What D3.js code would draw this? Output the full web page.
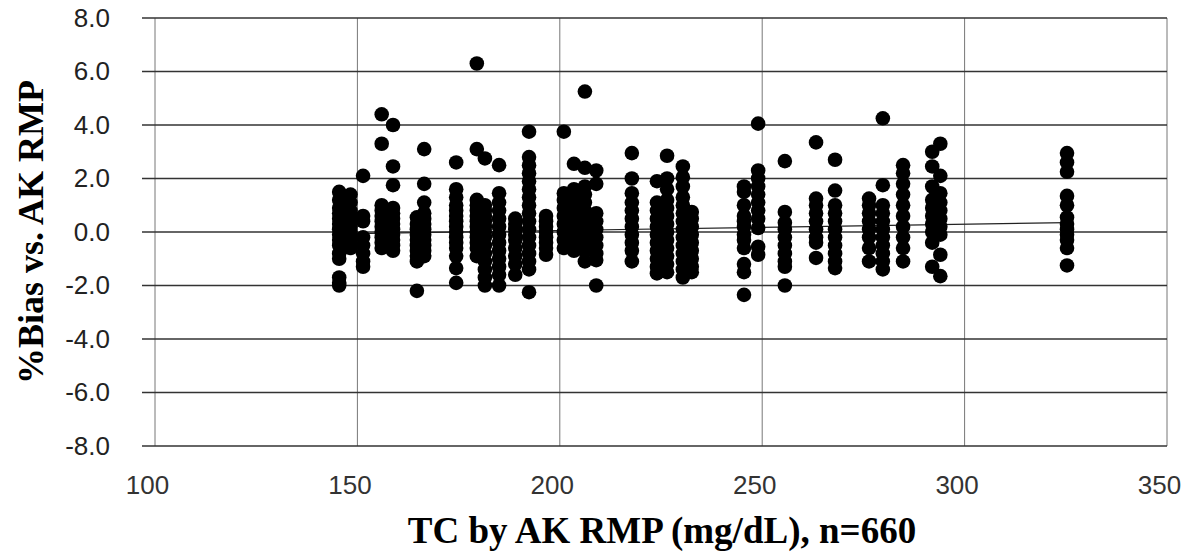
<!DOCTYPE html>
<html>
<head>
<meta charset="utf-8">
<script src="https://cdn.jsdelivr.net/npm/d3@7"></script>
<style>
  body { margin: 0; background: #fff; }
</style>
</head>
<body>
<div id="chart"></div>
<script>
// TC value of each column of points
var columnTC = [145.5, 148.3, 151.4, 156, 158.8, 164.7, 166.5, 174.4, 179.5, 181.5, 185, 189,
    192.4, 196.6, 201, 203.5, 206.2, 209, 217.8, 224, 226.5, 230.4, 232.6, 245.5, 249,
    255.6, 263.3, 268, 276.4, 279.8, 284.8, 292, 294, 325.3]

// %Bias values in each column (same order as columnTC)
var columnBias = [
    [1.5, 1.2, 0.9, 0.7, 0.5, 0.3, 0.1, -0.1, -0.3, -0.5, -0.8, -1.0, -1.7, -1.9, -2.0],
    [1.4, 1.1, 0.8, 0.6, 0.4, 0.2, 0.0, -0.2, -0.4, -0.6],
    [2.1, 0.6, 0.4, -0.2, -0.5, -0.8, -1.1, -1.3],
    [4.4, 3.3, 1.0, 0.8, 0.6, 0.4, 0.2, 0.0, -0.2, -0.4, -0.6],
    [4.0, 2.45, 1.75, 0.9, 0.7, 0.5, 0.3, 0.1, -0.1, -0.3, -0.5, -0.7],
    [0.55, 0.3, 0.1, -0.1, -0.3, -0.5, -0.7, -0.9, -1.1, -2.2],
    [3.1, 1.8, 1.1, 0.7, 0.5, 0.3, 0.1, -0.1, -0.3, -0.5, -0.7, -0.9],
    [2.6, 1.6, 1.3, 1.0, 0.8, 0.6, 0.4, 0.2, 0.0, -0.2, -0.4, -0.6, -0.9, -1.35, -1.9],
    [6.3, 3.1, 1.2, 1.0, 0.8, 0.6, 0.4, 0.2, 0.0, -0.2, -0.4, -0.6, -0.9],
    [2.75, 1.0, 0.8, 0.6, 0.4, 0.2, 0.0, -0.2, -0.5, -0.8, -1.1, -1.4, -1.7, -2.0],
    [2.5, 1.45, 1.1, 0.8, 0.5, 0.2, -0.1, -0.4, -0.7, -1.0, -1.3, -1.6, -2.0],
    [0.5, 0.3, 0.1, -0.1, -0.3, -0.6, -0.9, -1.2, -1.6],
    [3.75, 2.8, 2.5, 2.2, 1.9, 1.6, 1.3, 1.0, 0.7, 0.4, 0.1, -0.2, -0.5, -0.8, -1.1, -1.4, -2.25],
    [0.6, 0.4, 0.2, 0.0, -0.2, -0.4, -0.6, -0.85],
    [3.75, 1.45, 1.2, 0.9, 0.6, 0.3, 0.0, -0.3, -0.6],
    [2.55, 1.6, 1.3, 1.0, 0.7, 0.4, 0.1, -0.2, -0.5, -0.7],
    [5.25, 2.4, 1.7, 1.4, 1.1, 0.8, 0.5, 0.2, -0.1, -0.4, -0.7, -1.1],
    [2.3, 1.8, 0.7, 0.4, 0.1, -0.2, -0.5, -0.8, -1.05, -2.0],
    [2.95, 2.0, 1.45, 1.1, 0.8, 0.5, 0.2, -0.1, -0.4, -0.7, -1.1],
    [1.9, 1.1, 0.8, 0.5, 0.2, -0.1, -0.4, -0.7, -1.0, -1.3, -1.55],
    [2.85, 2.0, 1.6, 1.2, 0.9, 0.6, 0.3, 0.0, -0.3, -0.6, -0.9, -1.2, -1.5],
    [2.45, 2.05, 1.7, 1.3, 1.0, 0.7, 0.4, 0.1, -0.2, -0.5, -0.8, -1.1, -1.4, -1.7],
    [0.75, 0.5, 0.2, -0.1, -0.4, -0.7, -1.0, -1.3, -1.5],
    [1.7, 1.5, 1.0, 0.6, 0.4, 0.2, -0.1, -0.3, -0.6, -1.2, -1.5, -2.35],
    [4.05, 2.3, 2.0, 1.7, 1.4, 1.1, 0.8, 0.5, 0.15, -0.55, -0.85],
    [2.65, 0.75, 0.35, 0.1, -0.2, -0.5, -0.8, -1.1, -1.3, -2.0],
    [3.35, 1.25, 1.0, 0.7, 0.4, 0.1, -0.2, -0.4, -0.97],
    [2.7, 1.55, 1.0, 0.7, 0.4, 0.1, -0.2, -0.5, -0.8, -1.1, -1.35],
    [1.25, 1.0, 0.7, 0.4, 0.1, -0.2, -0.6, -1.1],
    [4.25, 1.75, 1.0, 0.7, 0.4, 0.1, -0.2, -0.5, -0.8, -1.1, -1.4],
    [2.5, 2.2, 1.8, 1.4, 1.0, 0.6, 0.2, -0.2, -0.6, -1.1],
    [3.0, 2.45, 1.7, 1.2, 0.9, 0.6, 0.3, 0.0, -0.4, -1.3],
    [3.3, 2.1, 1.45, 1.1, 0.8, 0.5, 0.2, -0.1, -0.85, -1.65],
    [2.95, 2.6, 2.25, 1.35, 1.0, 0.55, 0.3, 0.1, -0.1, -0.3, -0.6, -1.25]
]

// linear trend line ends
var trendTC = [145.5, 325.3]
var trendBias = [-0.07, 0.35]

var xTicks = [100, 150, 200, 250, 300, 350]
var yTicks = [-8, -6, -4, -2, 0, 2, 4, 6, 8]

var xTitle = 'TC by AK RMP (mg/dL), n=660'
var yTitle = '%Bias vs. AK RMP'

const margin = { top: 18, left: 155, bottom: 106, right: 31 }
const config = {
    svgWidth: 1198,
    svgHeight: 552,
    radius: 7.3
}
const width = config.svgWidth - margin.left - margin.right
const height = config.svgHeight - margin.top - margin.bottom

var points = []
columnTC.forEach((tc, i) => {
    columnBias[i].forEach(b => { points.push([tc, b]) })
})

var xScale = d3.scaleLinear().domain([100, 350]).range([0, width])
var yScale = d3.scaleLinear().domain([-8, 8]).range([height, 0])

var svg = d3.select('#chart').append('svg')
    .attr('width', config.svgWidth)
    .attr('height', config.svgHeight)

var g = svg.append('g')
    .attr('transform', 'translate(' + margin.left + ',' + margin.top + ')')

// vertical grid lines
g.append('g').selectAll('line')
    .data(xTicks).enter().append('line')
    .attr('x1', d => xScale(d)).attr('x2', d => xScale(d))
    .attr('y1', 0).attr('y2', height)
    .attr('stroke', '#777').attr('stroke-width', 1)

// horizontal grid lines (stick out to the left like tick marks)
g.append('g').selectAll('line')
    .data(yTicks).enter().append('line')
    .attr('x1', -13).attr('x2', width)
    .attr('y1', d => yScale(d)).attr('y2', d => yScale(d))
    .attr('stroke', '#333').attr('stroke-width', 1.4)

// y axis labels
var yAxis = d3.axisLeft(yScale).tickValues(yTicks).tickSize(0).tickPadding(45)
var yg = g.append('g').call(yAxis)
yg.select('.domain').remove()
yg.selectAll('text')
    .attr('x', -45)
    .attr('text-anchor', 'end')
    .style('font-family', '"Liberation Sans", Arial, sans-serif')
    .style('font-size', '26px')
    .attr('fill', '#222')
    .text(d => d3.format('.1f')(d).replace('−', '-'))

// x axis labels (sit a little left of their grid line)
var xAxis = d3.axisBottom(xScale).tickValues(xTicks).tickSize(0).tickPadding(30)
var xg = g.append('g').attr('transform', 'translate(0,' + height + ')').call(xAxis)
xg.select('.domain').remove()
xg.selectAll('text')
    .attr('dx', -8)
    .style('font-family', '"Liberation Sans", Arial, sans-serif')
    .style('font-size', '26px')
    .attr('fill', '#333')

// trend line
g.append('line')
    .attr('x1', xScale(trendTC[0])).attr('y1', yScale(trendBias[0]))
    .attr('x2', xScale(trendTC[1])).attr('y2', yScale(trendBias[1]))
    .attr('stroke', '#222').attr('stroke-width', 1.2)

// points
g.append('g').selectAll('circle')
    .data(points).enter().append('circle')
    .attr('cx', d => xScale(d[0]))
    .attr('cy', d => yScale(d[1]))
    .attr('r', config.radius)
    .attr('fill', '#000')

// axis titles
svg.append('text')
    .attr('x', 662).attr('y', 543)
    .attr('text-anchor', 'middle')
    .style('font-family', '"Liberation Serif", "Times New Roman", serif')
    .style('font-weight', 'bold')
    .style('font-size', '37px')
    .text(xTitle)

svg.append('text')
    .attr('transform', 'translate(43,' + 232 + ') rotate(-90)')
    .attr('text-anchor', 'middle')
    .style('font-family', '"Liberation Serif", "Times New Roman", serif')
    .style('font-weight', 'bold')
    .style('font-size', '36px')
    .text(yTitle)
</script>
</body>
</html>
